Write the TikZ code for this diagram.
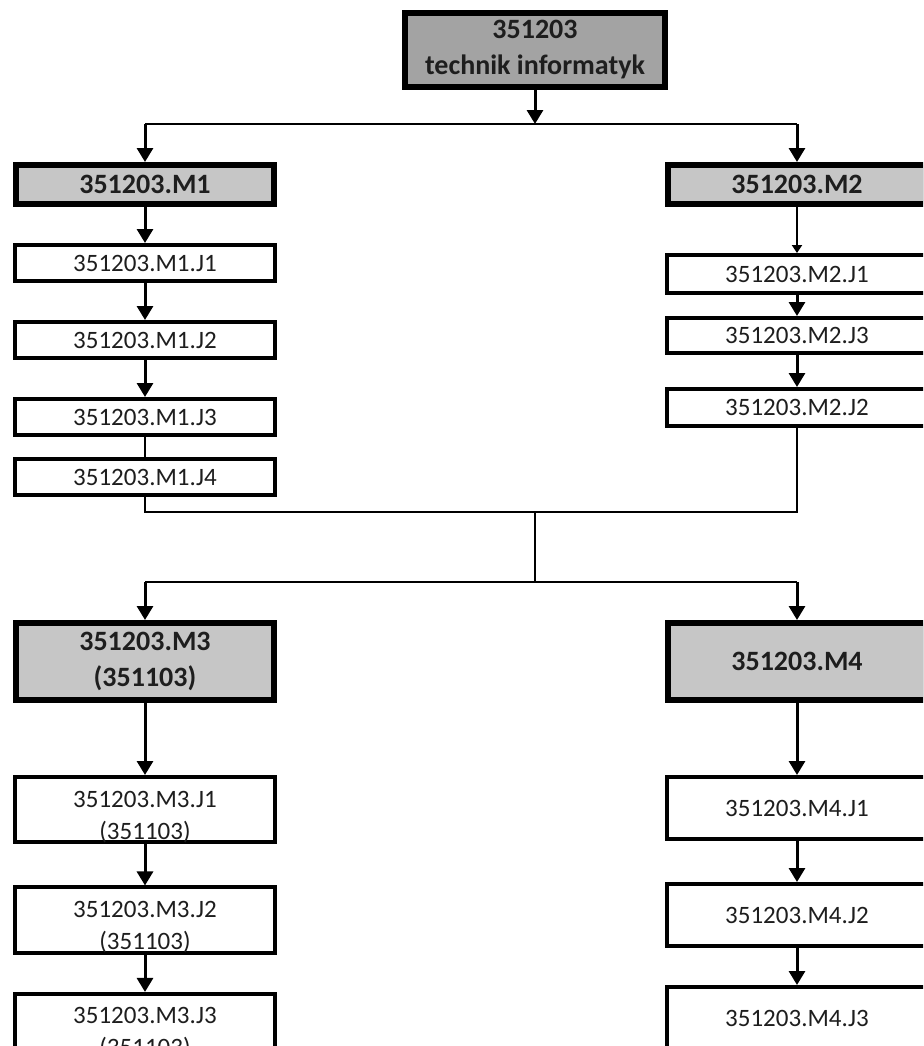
\documentclass[tikz,border=0pt]{standalone}
\usepackage{fontspec}
\setmainfont{Carlito}
\usetikzlibrary{arrows.meta,positioning,calc}

\definecolor{headgray}{RGB}{163,163,163}
\definecolor{modgray}{RGB}{198,198,198}
\definecolor{inkgray}{RGB}{30,30,30}

\newcommand{\lowtext}{\rule{0pt}{15pt}}

\begin{document}
\begin{tikzpicture}[x=0.5pt,y=-0.5pt,
         head/.style   = {draw, line width=3.2pt, fill=headgray, text=inkgray,
                          align=center, inner sep=0pt, minimum width=129.8pt,
                          minimum height=36.8pt, font=\bfseries\fontsize{14}{18}\selectfont},
         module/.style = {draw, line width=3pt, fill=modgray, text=inkgray,
                          align=center, inner sep=0pt, minimum width=129pt,
                          minimum height=19.5pt, font=\bfseries\fontsize{14}{18}\selectfont},
         unit/.style   = {draw, line width=2pt, fill=white, text=inkgray,
                          align=center, inner sep=0pt, minimum width=130pt,
                          minimum height=18pt, font=\fontsize{12.5}{16}\selectfont},
         link/.style   = {line width=1.5pt, -{Triangle[length=7pt,width=8pt]}},
         joint/.style  = {line width=1pt}
]

      \useasboundingbox (0,0) rectangle (923,1046);
      \clip (0,0) rectangle (923,1046);

      % qualification
      \node[head] (top) at (535,50) {351203\\technik informatyk};

      \coordinate (split1) at (535,124);
      \coordinate (merge)  at (535,512);
      \coordinate (split2) at (535,582);

      % first pair of modules
      \node[module] (m1) at (145,184.5) {351203.M1};
      \node[module] (m2) at (797,184.5) {351203.M2};

      \node[unit, below=18pt of m1]   (m1j1) {351203.M1.J1};
      \node[unit, below=18.5pt of m1j1] (m1j2) {351203.M1.J2};
      \node[unit, below=18.5pt of m1j2] (m1j3) {351203.M1.J3};
      \node[unit, below=10pt of m1j3] (m1j4) {351203.M1.J4};

      \node[unit, minimum height=19pt, below=23pt of m2]     (m2j1) {351203.M2.J1};
      \node[unit, minimum height=17.5pt, below=10.5pt of m2j1] (m2j3) {351203.M2.J3};
      \node[unit, minimum height=18.5pt, below=16pt of m2j3]   (m2j2) {351203.M2.J2};

      % second pair of modules
      \node[module, minimum height=38.5pt] (m3) at (145,661.5) {351203.M3\\(351103)};
      \node[module, minimum height=38.5pt] (m4) at (797,661.5) {351203.M4};

      \node[unit, minimum height=31pt, below=36pt of m3]     (m3j1) {\lowtext 351203.M3.J1\\(351103)};
      \node[unit, minimum height=31pt, below=20.5pt of m3j1] (m3j2) {\lowtext 351203.M3.J2\\(351103)};
      \node[unit, minimum height=31pt, below=18.5pt of m3j2] (m3j3) {\lowtext 351203.M3.J3\\(351103)};

      \node[unit, minimum height=31pt, below=36pt of m4]     (m4j1) {351203.M4.J1};
      \node[unit, minimum height=31pt, below=20.5pt of m4j1] (m4j2) {351203.M4.J2};
      \node[unit, minimum height=31pt, below=18.5pt of m4j2] (m4j3) {351203.M4.J3};

      % branching from the top
      \draw[link]  (top) -- (split1);
      \draw[joint] (m1 |- split1) -- (m2 |- split1);
      \draw[link]  (m1 |- split1) -- (m1);
      \draw[link]  (m2 |- split1) -- (m2);

      % left column
      \draw[link] (m1) -- (m1j1);
      \draw[link] (m1j1) -- (m1j2);
      \draw[link] (m1j2) -- (m1j3);
      \draw[joint] (m1j3) -- (m1j4);

      % right column
      \draw[line width=1.2pt, -{Triangle[length=4pt,width=5pt]}] (m2) -- (m2j1);
      \draw[link] (m2j1) -- (m2j3);
      \draw[link] (m2j3) -- (m2j2);

      % joining both columns
      \draw[joint] (m1j4) -- (m1j4 |- merge) -- (m2j2 |- merge) -- (m2j2);
      \draw[joint] (merge) -- (split2);
      \draw[line width=1.4pt] (m3 |- split2) -- (m4 |- split2);
      \draw[link] (m3 |- split2) -- (m3);
      \draw[link] (m4 |- split2) -- (m4);

      % lower columns
      \draw[link] (m3) -- (m3j1);
      \draw[link] (m3j1) -- (m3j2);
      \draw[link] (m3j2) -- (m3j3);

      \draw[link] (m4) -- (m4j1);
      \draw[link] (m4j1) -- (m4j2);
      \draw[link] (m4j2) -- (m4j3);

\end{tikzpicture}
\end{document}
